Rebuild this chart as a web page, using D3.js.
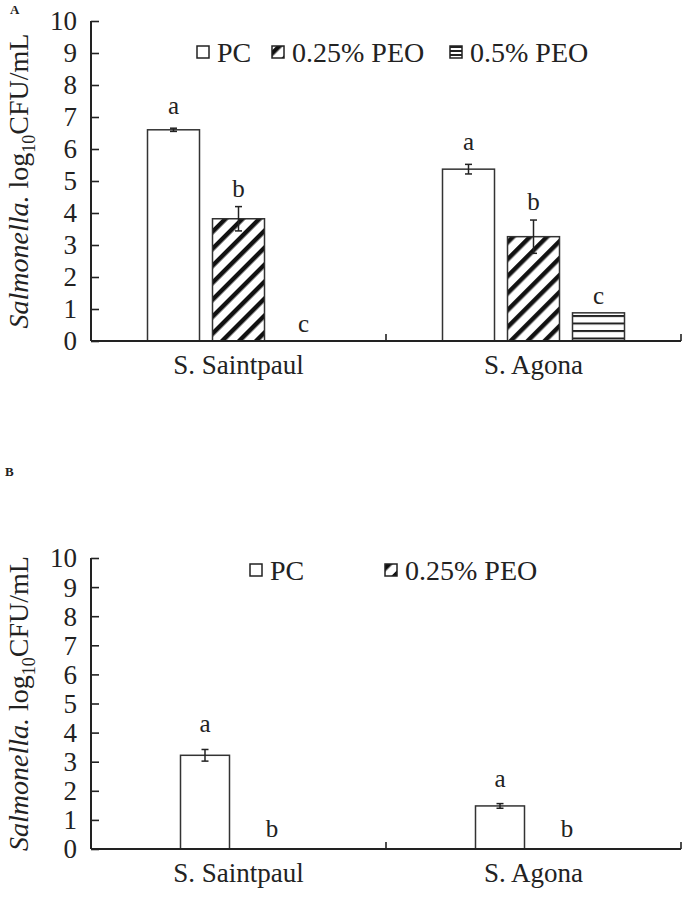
<!DOCTYPE html>
<html><head><meta charset="utf-8">
<script src="https://cdn.jsdelivr.net/npm/d3@7"></script>
<style>body{margin:0;background:#fff}svg{display:block}text{font-family:"Liberation Serif","Times New Roman",serif;fill:#222}</style>
</head><body>
<script>
const categories = ["S. Saintpaul", "S. Agona"];
const yTicks = [0,1,2,3,4,5,6,7,8,9,10];
// Panel A
const seriesA = ["PC", "0.25% PEO", "0.5% PEO"];
const valuesA_PC = [6.6, 5.37];
const errA_PC = [0.05, 0.15];
const lettersA_PC = ["a", "a"];
const valuesA_025 = [3.82, 3.26];
const errA_025 = [0.38, 0.52];
const lettersA_025 = ["b", "b"];
const valuesA_05 = [0, 0.88];
const errA_05 = [0, 0];
const lettersA_05 = ["c", "c"];
// Panel B
const seriesB = ["PC", "0.25% PEO"];
const valuesB_PC = [3.22, 1.48];
const errB_PC = [0.2, 0.08];
const lettersB_PC = ["a", "a"];
const valuesB_025 = [0, 0];
const errB_025 = [0, 0];
const lettersB_025 = ["b", "b"];

const W = 683, H = 898;
const svg = d3.select("body").append("svg").attr("width", W).attr("height", H);
const defs = svg.append("defs");
const hatch = defs.append("pattern").attr("id","hatch").attr("patternUnits","userSpaceOnUse")
  .attr("width",12).attr("height",12).attr("patternTransform","rotate(45)");
hatch.append("rect").attr("width",12).attr("height",12).attr("fill","#fff");
hatch.append("rect").attr("x",0).attr("width",4.5).attr("height",12).attr("fill","#111");
const hlines = defs.append("pattern").attr("id","hlines").attr("patternUnits","userSpaceOnUse")
  .attr("width",8).attr("height",7.5);
hlines.append("rect").attr("width",8).attr("height",7.5).attr("fill","#fff");
hlines.append("rect").attr("y",0).attr("width",8).attr("height",2).attr("fill","#222");
const hlinesLeg = defs.append("pattern").attr("id","hlinesLeg").attr("patternUnits","userSpaceOnUse")
  .attr("width",4).attr("height",4);
hlinesLeg.append("rect").attr("width",4).attr("height",4).attr("fill","#fff");
hlinesLeg.append("rect").attr("y",2).attr("width",4).attr("height",2).attr("fill","#222");

const fills = {"PC":"#fff","0.25% PEO":"url(#hatch)","0.5% PEO":"url(#hlines)"};
const legFills = {"PC":"#fff","0.25% PEO":"url(#hatch)","0.5% PEO":"url(#hlinesLeg)"};

function panel(cfg){
  const g = svg.append("g");
  const x = d3.scaleBand().domain(categories).range([cfg.x0, cfg.x1]).padding(0);
  const y = d3.scaleLinear().domain([0,10]).range([cfg.yb, cfg.yt]);
  const xs = d3.scaleBand().domain(cfg.series.map(s=>s.name)).range(cfg.inner).paddingInner(cfg.pad);
  // y axis
  const ya = g.append("g").attr("transform",`translate(${cfg.x0},0)`)
    .call(d3.axisRight(y).tickValues(yTicks).tickSize(8).tickFormat(""));
  ya.select(".domain").remove();
  ya.selectAll("line").attr("stroke","#222").attr("stroke-width",1.6);
  g.append("line").attr("x1",cfg.x0).attr("x2",cfg.x0).attr("y1",y(10)).attr("y2",y(0)).attr("stroke","#222").attr("stroke-width",2);
  g.selectAll(".yl").data(yTicks).join("text").attr("x",77).attr("y",d=>y(d)).attr("dy","0.35em")
    .attr("text-anchor","end").attr("font-size",27).text(d=>d);
  // bars
  cfg.series.forEach(s=>{
    categories.forEach((c,i)=>{
      const cx = x(c)+x.bandwidth()/2 + xs(s.name);
      const v = s.values[i], e = s.err[i];
      if (v>0){
        g.append("rect").attr("x",cx).attr("y",y(v)).attr("width",xs.bandwidth()).attr("height",y(0)-y(v))
          .attr("fill",fills[s.name]).attr("stroke","#333").attr("stroke-width",1.5);
      }
      const mx = cx + xs.bandwidth()/2;
      if (e>0){
        g.append("line").attr("x1",mx).attr("x2",mx).attr("y1",y(v+e)).attr("y2",y(v-e)).attr("stroke","#222").attr("stroke-width",1.5);
        [v+e,v-e].forEach(t=>g.append("line").attr("x1",mx-3.5).attr("x2",mx+3.5).attr("y1",y(t)).attr("y2",y(t)).attr("stroke","#222").attr("stroke-width",1.5));
      }
      g.append("text").attr("x",mx).attr("y",y(v+e)-s.gap).attr("text-anchor","middle").attr("font-size",25).text(s.letters[i]);
    });
  });
  // x axis
  g.append("line").attr("x1",cfg.x0).attr("x2",cfg.x1).attr("y1",y(0)).attr("y2",y(0)).attr("stroke","#222").attr("stroke-width",2);
  [categories[0],categories[1]].forEach(c=>{
    const tx = x(c)+x.bandwidth();
    g.append("line").attr("x1",tx).attr("x2",tx).attr("y1",y(0)).attr("y2",y(0)-7).attr("stroke","#222").attr("stroke-width",1.6);
  });
  g.selectAll(".xl").data(categories).join("text").attr("x",d=>x(d)+x.bandwidth()/2).attr("y",y(0)+33)
    .attr("text-anchor","middle").attr("font-size",27).text(d=>d);
  // y label
  const lab = g.append("text").attr("transform",`translate(${cfg.labX},${(y(0)+y(10))/2}) rotate(-90)`)
    .attr("text-anchor","middle").attr("font-size",28);
  lab.append("tspan").attr("font-style","italic").text("Salmonella.");
  lab.append("tspan").text(" log");
  lab.append("tspan").attr("font-size",18).attr("dy",7).text("10");
  lab.append("tspan").attr("dy",-7).text("CFU/mL");
  // legend
  cfg.legend.forEach((L,i)=>{
    g.append("rect").attr("x",L.x).attr("y",cfg.legY-6).attr("width",12).attr("height",12)
      .attr("fill",legFills[cfg.series[i].name]).attr("stroke","#222").attr("stroke-width",1.5);
    g.append("text").attr("x",L.x+20).attr("y",cfg.legY).attr("dy","0.35em").attr("font-size",28).text(cfg.series[i].name);
  });
  g.append("text").attr("x",cfg.tagX).attr("y",cfg.tagY).attr("font-size",13).attr("font-weight","bold").text(cfg.tag);
}

panel({x0:91,x1:681,yb:341,yt:21,inner:[-91,91],pad:0.2,labX:28,legY:52,tag:"A",tagX:10,tagY:14,
  legend:[{x:197},{x:272},{x:450}],
  series:[{name:seriesA[0],values:valuesA_PC,err:errA_PC,letters:lettersA_PC,gap:14},
          {name:seriesA[1],values:valuesA_025,err:errA_025,letters:lettersA_025,gap:10},
          {name:seriesA[2],values:valuesA_05,err:errA_05,letters:lettersA_05,gap:9}]});
panel({x0:91,x1:681,yb:849,yt:558,inner:[-58,58],pad:0.2687,labX:28,legY:570,tag:"B",tagX:5,tagY:476,
  legend:[{x:250},{x:385}],
  series:[{name:seriesB[0],values:valuesB_PC,err:errB_PC,letters:lettersB_PC,gap:17},
          {name:seriesB[1],values:valuesB_025,err:errB_025,letters:lettersB_025,gap:12}]});
</script>
</body></html>
